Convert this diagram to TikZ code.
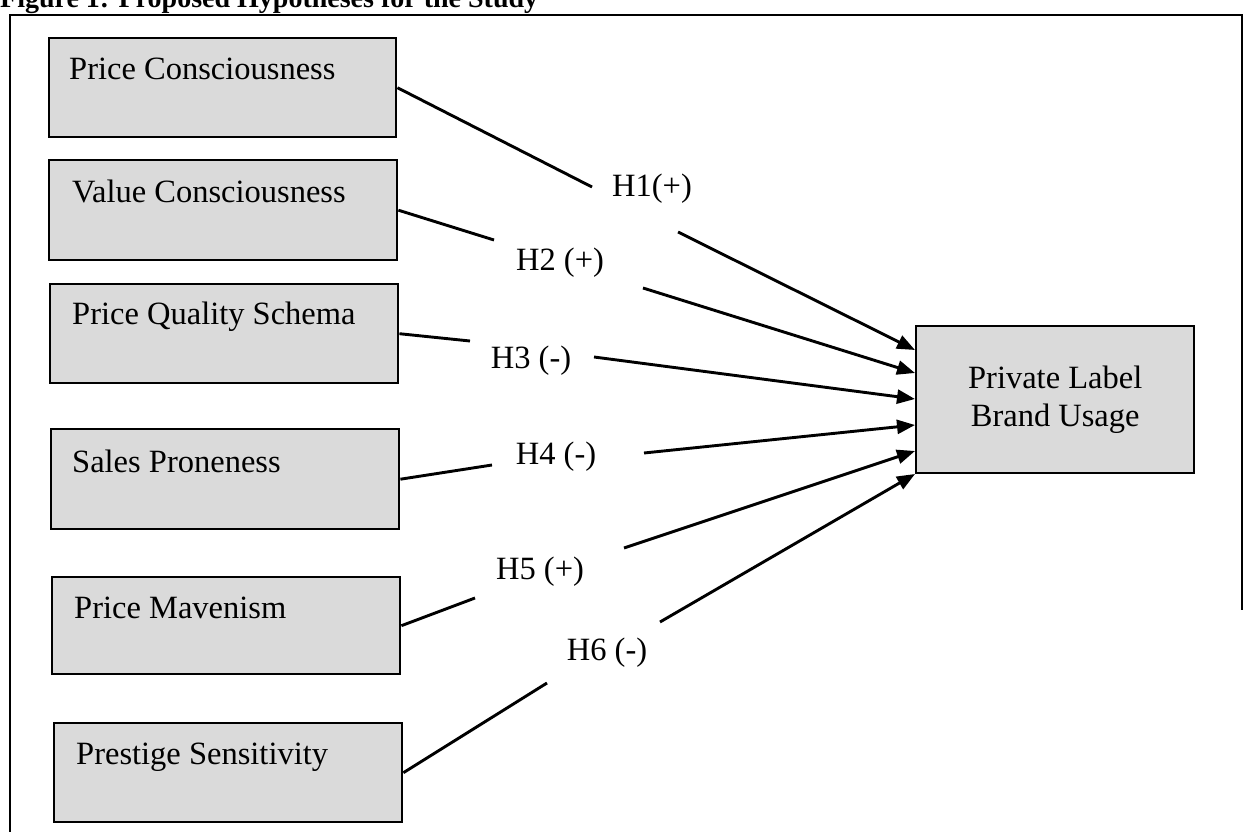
\documentclass[tikz,border=0pt]{standalone}
\usepackage{fontspec}
\setmainfont{Liberation Serif}
\usetikzlibrary{arrows.meta,calc}
\definecolor{boxgray}{RGB}{218,218,218}
\begin{document}
\begin{tikzpicture}[x=1pt,y=-1pt,
  frameline/.style={line width=2pt,draw=black},
  box/.style={draw=black,line width=2.4pt,fill=boxgray,inner sep=0pt,anchor=north west},
  boxtext/.style={anchor=base west,inner sep=0pt,font=\fontsize{32.5}{38}\selectfont},
  hyp/.style={inner sep=0pt,font=\fontsize{32.5}{38}\selectfont},
  conn/.style={line width=2.9pt},
  arr/.style={line width=2.9pt,-{Triangle[length=18pt,width=14pt]}}]
\useasboundingbox (0,0) rectangle (1245,832);

% title (cut at top edge, as in the scan)
\node[anchor=base west,inner sep=0pt,font=\bfseries\fontsize{28}{30}\selectfont] (title) at (0,8) {Figure 1: Proposed Hypotheses for the Study};

% frame
\coordinate (f1) at (10,832);
\coordinate (f2) at (10,15);
\coordinate (f3) at (1242,15);
\coordinate (f4) at (1242,610);
\draw[frameline] (f1) -- (f2) -- (f3) -- (f4);

% left boxes
\node[box,minimum width=347pt,minimum height=99pt] (pc) at (48,37) {};
\node[boxtext] (pct) at ($(pc.north west)+(21,43)$) {Price Consciousness};
\node[box,minimum width=348pt,minimum height=100pt] (vc) at (48,159) {};
\node[boxtext] (vct) at ($(vc.north west)+(24,43)$) {Value Consciousness};
\node[box,minimum width=348pt,minimum height=99pt] (pq) at (49,283) {};
\node[boxtext] (pqt) at ($(pq.north west)+(23,41)$) {Price Quality Schema};
\node[box,minimum width=348pt,minimum height=100pt] (sp) at (50,428) {};
\node[boxtext] (spt) at ($(sp.north west)+(22,44)$) {Sales Proneness};
\node[box,minimum width=348pt,minimum height=97pt] (pm) at (51,576) {};
\node[boxtext] (pmt) at ($(pm.north west)+(23,42)$) {Price Mavenism};
\node[box,minimum width=348pt,minimum height=99pt] (ps) at (53,722) {};
\node[boxtext] (pst) at ($(ps.north west)+(23,42)$) {Prestige Sensitivity};

% target
\node[box,minimum width=278pt,minimum height=147pt,align=center,font=\fontsize{32.5}{38}\selectfont] (pbu) at (915,325) {Private Label\\Brand Usage};

% hypothesis labels
\node[hyp] (h1) at (652,189) {H1(+)};
\node[hyp] (h2) at (560,263) {H2 (+)};
\node[hyp] (h3) at (531,361) {H3 (-)};
\node[hyp] (h4) at (556,457) {H4 (-)};
\node[hyp] (h5) at (540,572) {H5 (+)};
\node[hyp] (h6) at (607,653) {H6 (-)};

% gap ends
\coordinate (a1) at (592,187); \coordinate (b1) at (678,232);
\coordinate (a2) at (494,240); \coordinate (b2) at (643,288);
\coordinate (a3) at (470,341); \coordinate (b3) at (594,357);
\coordinate (a4) at (492,465); \coordinate (b4) at (644,453);
\coordinate (a5) at (475,598); \coordinate (b5) at (624,548);
\coordinate (a6) at (547,683); \coordinate (b6) at (660,622);

% connectors
\draw[conn] (pc.east) -- (a1);
\draw[conn] (vc.east) -- (a2);
\draw[conn] (pq.east) -- (a3);
\draw[conn] (sp.east) -- (a4);
\draw[conn] (pm.east) -- (a5);
\draw[conn] (ps.east) -- (a6);
\draw[arr] (b1) -- ($(pbu.north west)+(0,25)$);
\draw[arr] (b2) -- ($(pbu.north west)+(0,48)$);
\draw[arr] (b3) -- ($(pbu.north west)+(0,74)$);
\draw[arr] (b4) -- ($(pbu.north west)+(0,100)$);
\draw[arr] (b5) -- ($(pbu.north west)+(0,126)$);
\draw[arr] (b6) -- ($(pbu.north west)+(0,149)$);
\end{tikzpicture}
\end{document}
